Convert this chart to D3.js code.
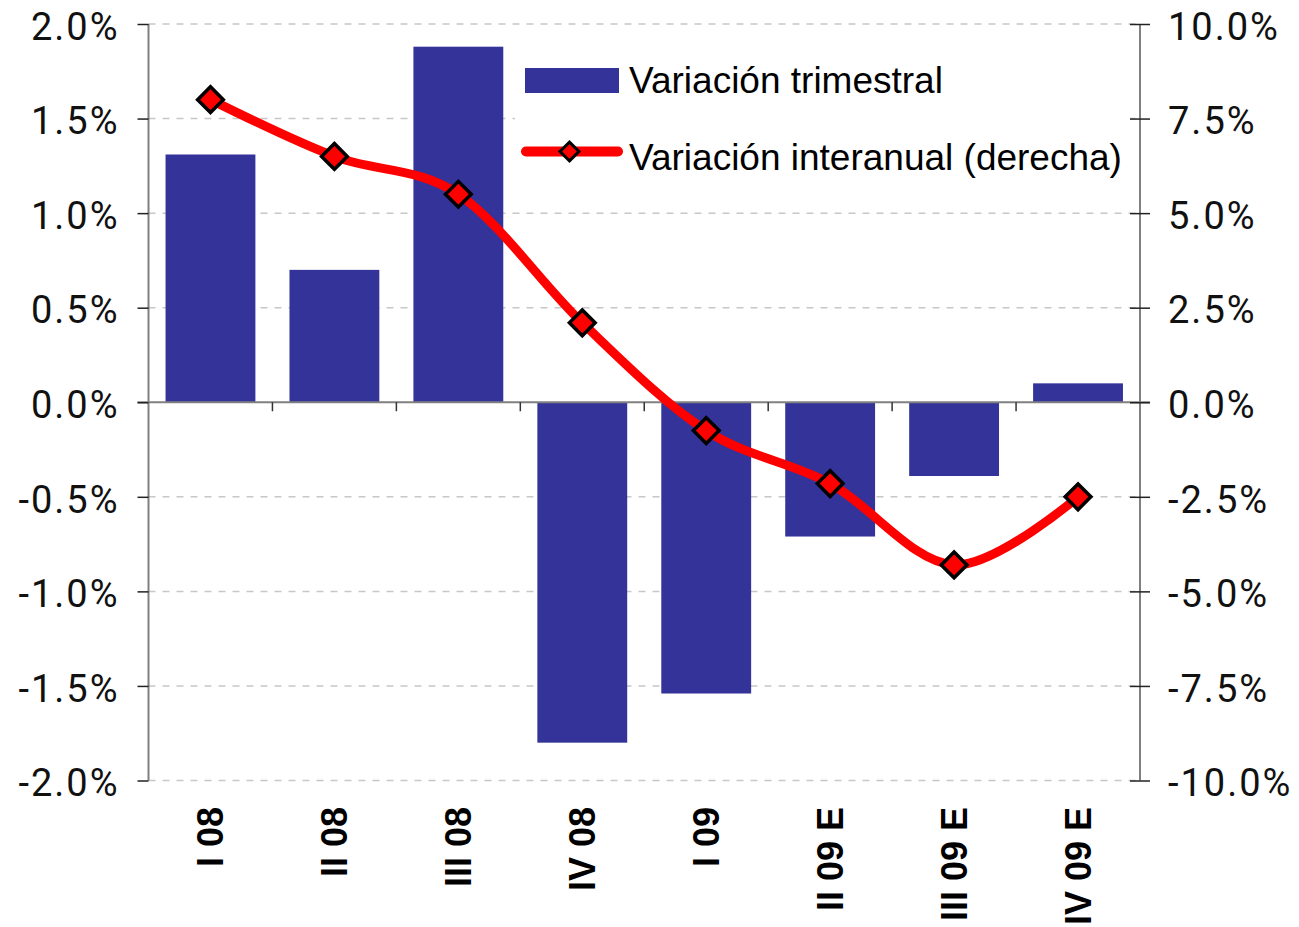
<!DOCTYPE html>
<html>
<head>
<meta charset="utf-8">
<script src="https://cdn.jsdelivr.net/npm/d3@7"></script>
<style>
  body { margin: 0; background: #fff; }
  svg { display: block; }
</style>
</head>
<body>
<div id="chart"></div>
<script>
// quarters shown on the x axis
var categories = ["I 08", "II 08", "III 08", "IV 08", "I 09", "II 09 E", "III 09 E", "IV 09 E"];
// bars, left axis (%)
var quarterly = [1.31, 0.70, 1.88, -1.80, -1.54, -0.71, -0.39, 0.10];
// line, right axis (%)
var annual = [8.0, 6.5, 5.5, 2.1, -0.75, -2.15, -4.3, -2.5];
var leftTicks = [-2, -1.5, -1, -0.5, 0, 0.5, 1, 1.5, 2];
var rightTicks = [-10, -7.5, -5, -2.5, 0, 2.5, 5, 7.5, 10];
var seriesNames = ["Variación trimestral", "Variación interanual (derecha)"];

var width = 1299, height = 927;
var x0 = 148.5, x1 = 1140, yTop = 24, yBot = 780.5;

var svg = d3.select("#chart").append("svg")
    .attr("width", width)
    .attr("height", height);

var x = d3.scaleBand()
    .domain(categories)
    .range([x0, x1])
    .paddingInner(0.275)
    .paddingOuter(0.1375);

var yL = d3.scaleLinear().domain([-2, 2]).range([yBot, yTop]);
var yR = d3.scaleLinear().domain([-10, 10]).range([yBot, yTop]);

// plain hyphen for negatives, like the original
var fmt = d3.formatLocale({decimal: ".", thousands: ",", grouping: [3], currency: ["", ""], minus: "-"})
    .format(".1f");

// dashed gridlines
svg.append("g")
  .selectAll("line")
  .data(leftTicks.filter(d => d !== 0))
  .enter().append("line")
    .attr("x1", x0).attr("x2", x1)
    .attr("y1", d => yL(d)).attr("y2", d => yL(d))
    .attr("stroke", "#c8c8c8")
    .attr("stroke-width", 1.5)
    .attr("stroke-dasharray", "7,7");

// bars
svg.append("g")
  .selectAll("rect")
  .data(quarterly)
  .enter().append("rect")
    .attr("x", (d, i) => x(categories[i]))
    .attr("width", x.bandwidth())
    .attr("y", d => yL(Math.max(0, d)))
    .attr("height", d => Math.abs(yL(d) - yL(0)))
    .attr("fill", "#333399");

// zero line + category ticks
svg.append("line")
    .attr("x1", x0 - 11).attr("x2", x1 + 10)
    .attr("y1", yL(0)).attr("y2", yL(0))
    .attr("stroke", "#808080").attr("stroke-width", 2);

svg.append("g")
  .selectAll("line")
  .data(d3.range(1, categories.length))
  .enter().append("line")
    .attr("x1", i => x0 + i * x.step())
    .attr("x2", i => x0 + i * x.step())
    .attr("y1", yL(0)).attr("y2", yL(0) + 9)
    .attr("stroke", "#333").attr("stroke-width", 1.5);

// left axis
var gL = svg.append("g")
    .attr("transform", "translate(" + x0 + ",0)")
    .call(d3.axisLeft(yL).tickValues(leftTicks).tickSize(11).tickPadding(18)
      .tickFormat(d => fmt(d) + "%"));
gL.select(".domain").attr("stroke", "#808080").attr("stroke-width", 2);
gL.selectAll(".tick line").attr("stroke", "#222").attr("stroke-width", 1.5);
gL.selectAll(".tick text")
    .attr("font-family", "Roboto, sans-serif")
    .attr("font-size", 38)
    .attr("letter-spacing", "2px")
    .attr("fill", "#111")
    .attr("dy", "0.4em");

// right axis
var gR = svg.append("g")
    .attr("transform", "translate(" + x1 + ",0)")
    .call(d3.axisRight(yR).tickValues(rightTicks).tickSize(10).tickPadding(18)
      .tickFormat(d => fmt(d) + "%"));
gR.select(".domain").attr("stroke", "#808080").attr("stroke-width", 2);
gR.selectAll(".tick line").attr("x1", -10).attr("stroke", "#222").attr("stroke-width", 1.5);
gR.selectAll(".tick text")
    .attr("font-family", "Roboto, sans-serif")
    .attr("font-size", 38)
    .attr("letter-spacing", "2px")
    .attr("fill", "#111")
    .attr("dy", "0.4em");
gL.selectAll(".domain").attr("d", "M0," + yTop + "V" + yBot);
gR.selectAll(".domain").attr("d", "M0," + yTop + "V" + yBot);

// category labels, rotated
svg.append("g")
  .selectAll("text")
  .data(categories)
  .enter().append("text")
    .attr("transform", d => "translate(" + (x(d) + x.bandwidth() / 2) + ",807) rotate(-90)")
    .attr("text-anchor", "end")
    .attr("dy", "0.36em")
    .attr("font-family", "'Liberation Sans', Arial, sans-serif")
    .attr("font-weight", "bold")
    .attr("font-size", 36)
    .attr("fill", "#000")
    .text(d => d);

// interannual line
var line = d3.line()
    .x((d, i) => x(categories[i]) + x.bandwidth() / 2)
    .y(d => yR(d))
    .curve(d3.curveCardinal.tension(0));

svg.append("path")
    .datum(annual)
    .attr("d", line)
    .attr("fill", "none")
    .attr("stroke", "#ff0000")
    .attr("stroke-width", 9)
    .attr("stroke-linejoin", "round")
    .attr("stroke-linecap", "round");

var diamond = d3.symbol().type(d3.symbolSquare).size(330);
svg.append("g")
  .selectAll("path")
  .data(annual)
  .enter().append("path")
    .attr("d", diamond)
    .attr("transform", (d, i) => "translate(" + (x(categories[i]) + x.bandwidth() / 2) + "," + yR(d) + ") rotate(45)")
    .attr("fill", "#ff0000")
    .attr("stroke", "#000")
    .attr("stroke-width", 3.5);

// legend
var legend = svg.append("g");
legend.append("rect")
    .attr("x", 515).attr("y", 52).attr("width", 615).attr("height", 138)
    .attr("fill", "#fff");
legend.append("rect")
    .attr("x", 525).attr("y", 68).attr("width", 94).attr("height", 25)
    .attr("fill", "#333399");
legend.append("line")
    .attr("x1", 526).attr("x2", 618).attr("y1", 151.5).attr("y2", 151.5)
    .attr("stroke", "#ff0000").attr("stroke-width", 10)
    .attr("stroke-linecap", "round");
legend.append("path")
    .attr("d", d3.symbol().type(d3.symbolSquare).size(180))
    .attr("transform", "translate(569.5,151.5) rotate(45)")
    .attr("fill", "#ff0000").attr("stroke", "#000").attr("stroke-width", 3);
legend.selectAll("text.lbl")
  .data(seriesNames)
  .enter().append("text")
    .attr("class", "lbl")
    .attr("x", 629)
    .attr("y", (d, i) => i === 0 ? 93 : 170)
    .attr("font-family", "'Liberation Sans', Arial, sans-serif")
    .attr("font-size", 37)
    .attr("fill", "#000")
    .text(d => d);
</script>
</body>
</html>
